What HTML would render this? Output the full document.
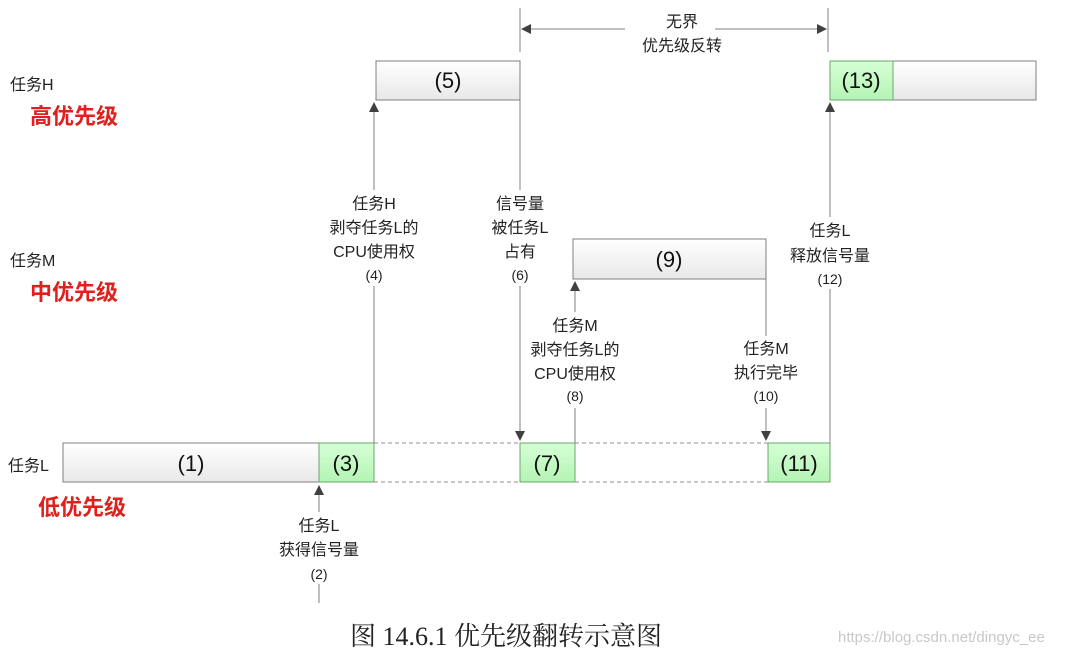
<!DOCTYPE html>
<html><head><meta charset="utf-8"><style>
body{margin:0;background:#fff;}
text{font-family:"Liberation Sans","Noto Sans CJK SC",sans-serif;}
</style></head><body>
<svg width="1066" height="655" xmlns="http://www.w3.org/2000/svg">
<defs>
<linearGradient id="g" x1="0" y1="0" x2="0" y2="1"><stop offset="0" stop-color="#ffffff"/><stop offset="1" stop-color="#e8e8e8"/></linearGradient>
<linearGradient id="gr" x1="0" y1="0" x2="0" y2="1"><stop offset="0" stop-color="#d6ffd6"/><stop offset="1" stop-color="#b4f4b4"/></linearGradient>
<marker id="a" markerWidth="10" markerHeight="10" refX="9" refY="5" orient="auto" markerUnits="userSpaceOnUse"><path d="M0,0 L10,5 L0,10 z" fill="#404040"/></marker>
</defs>
<g stroke="#7f7f7f" stroke-width="1">
<rect x="376" y="61" width="144" height="39" fill="url(#g)"/>
<rect x="893" y="61" width="143" height="39" fill="url(#g)"/>
<rect x="830" y="61" width="63" height="39" fill="url(#gr)" stroke="#6aa66a"/>
<rect x="573" y="239" width="193" height="40" fill="url(#g)"/>
<rect x="63" y="443" width="256" height="39" fill="url(#g)"/>
<rect x="319" y="443" width="55" height="39" fill="url(#gr)" stroke="#6aa66a"/>
<rect x="520" y="443" width="55" height="39" fill="url(#gr)" stroke="#6aa66a"/>
<rect x="768" y="443" width="62" height="39" fill="url(#gr)" stroke="#6aa66a"/>
</g>
<g stroke="#8f8f8f" stroke-dasharray="4,3">
<line x1="374" y1="443" x2="520" y2="443"/><line x1="374" y1="482" x2="520" y2="482"/>
<line x1="575" y1="443" x2="768" y2="443"/><line x1="575" y1="482" x2="768" y2="482"/>
</g>
<g stroke="#7f7f7f" stroke-width="1" fill="none" marker-end="url(#a)">
<line x1="374" y1="443" x2="374" y2="103"/>
<line x1="520" y1="100" x2="520" y2="440"/>
<line x1="575" y1="443" x2="575" y2="282"/>
<line x1="766" y1="279" x2="766" y2="440"/>
<line x1="830" y1="443" x2="830" y2="103"/>
<line x1="319" y1="603" x2="319" y2="486"/>
<line x1="625" y1="29" x2="522" y2="29"/>
<line x1="715" y1="29" x2="826" y2="29"/>
</g>
<g stroke="#7f7f7f"><line x1="520" y1="8" x2="520" y2="52"/><line x1="828" y1="8" x2="828" y2="52"/></g>
<g fill="#fff">
<rect x="328" y="190" width="92" height="96"/>
<rect x="485" y="190" width="70" height="96"/>
<rect x="528" y="312" width="94" height="96"/>
<rect x="730" y="336" width="72" height="72"/>
<rect x="785" y="217" width="92" height="72"/>
<rect x="275" y="512" width="88" height="72"/>
</g>
<g font-size="22" fill="#111" text-anchor="middle">
<text x="448" y="88">(5)</text><text x="861" y="88">(13)</text><text x="669" y="267">(9)</text>
<text x="191" y="471">(1)</text><text x="346" y="471">(3)</text><text x="547" y="471">(7)</text><text x="799" y="471">(11)</text>
</g>
<g font-size="16" fill="#222" text-anchor="middle">
<text x="682" y="27">无界</text><text x="682" y="51">优先级反转</text>
<text x="374" y="209">任务H</text><text x="374" y="233">剥夺任务L的</text><text x="374" y="257">CPU使用权</text><text x="374" y="280" font-size="14">(4)</text>
<text x="520" y="209">信号量</text><text x="520" y="233">被任务L</text><text x="520" y="257">占有</text><text x="520" y="280" font-size="14">(6)</text>
<text x="575" y="331">任务M</text><text x="575" y="355">剥夺任务L的</text><text x="575" y="379">CPU使用权</text><text x="575" y="401" font-size="14">(8)</text>
<text x="766" y="354">任务M</text><text x="766" y="378">执行完毕</text><text x="766" y="401" font-size="14">(10)</text>
<text x="830" y="236">任务L</text><text x="830" y="261">释放信号量</text><text x="830" y="284" font-size="14">(12)</text>
<text x="319" y="531">任务L</text><text x="319" y="555">获得信号量</text><text x="319" y="579" font-size="14">(2)</text>
</g>
<g font-size="16" fill="#222">
<text x="10" y="90">任务H</text><text x="10" y="266">任务M</text><text x="8" y="471">任务L</text>
</g>
<g font-size="22" font-weight="bold" fill="#e0201c">
<text x="30" y="124">高优先级</text><text x="30" y="300">中优先级</text><text x="38" y="515">低优先级</text>
</g>
<text x="506" y="645" text-anchor="middle" font-size="26" fill="#222" style="font-family:'Liberation Serif','Noto Serif CJK SC',serif">图 14.6.1  优先级翻转示意图</text>
<text x="838" y="642" font-size="15" fill="#c8c8c8">https://blog.csdn.net/dingyc_ee</text>
</svg>
</body></html>
